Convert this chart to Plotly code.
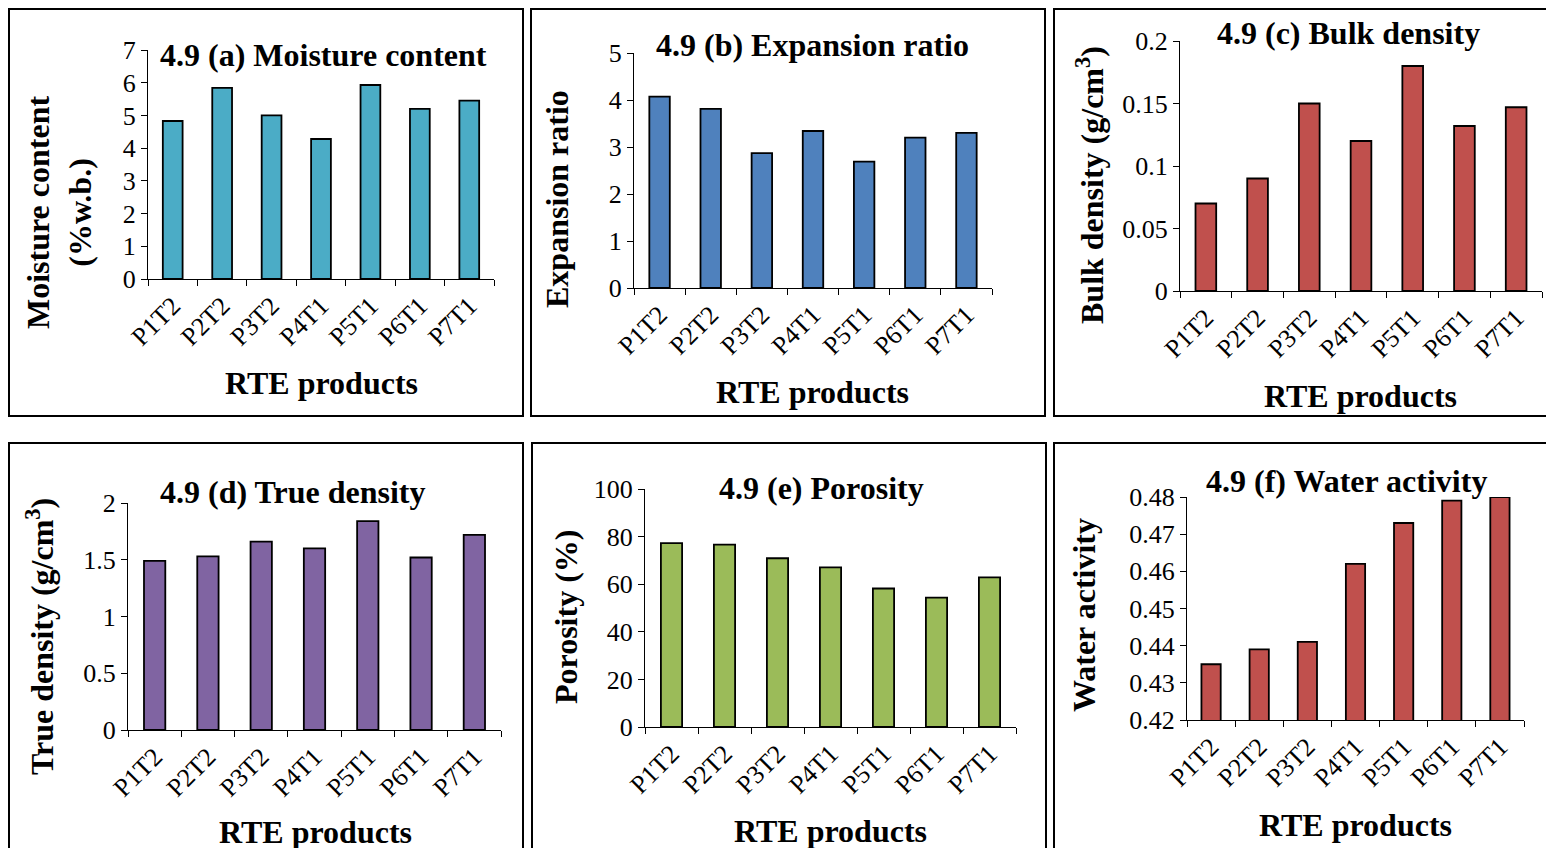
import plotly.graph_objects as go

# page body has an 8px margin, so the figure is a little smaller than the window
PAGE_OFF = 8
W, H = 1554 - PAGE_OFF, 848 - PAGE_OFF
FONT = "Liberation Serif"

products = ["P1T2", "P2T2", "P3T2", "P4T1", "P5T1", "P6T1", "P7T1"]

moisture = [4.83, 5.84, 5.0, 4.28, 5.93, 5.2, 5.45]
expansion = [4.07, 3.81, 2.87, 3.34, 2.69, 3.2, 3.3]
bulk_density = [0.07, 0.09, 0.15, 0.12, 0.18, 0.132, 0.147]
true_density = [1.49, 1.53, 1.66, 1.6, 1.84, 1.52, 1.72]
porosity = [77.3, 76.6, 70.9, 67.1, 58.2, 54.4, 62.9]
water_activity = [0.435, 0.439, 0.441, 0.462, 0.473, 0.479, 0.48]

panels = [
    dict(y=moisture, color="#4BACC6", title="4.9 (a) Moisture content",
         ytitle="Moisture content<br>(%w.b.)", yrange=[0, 7], dtick=1,
         plot=(148, 494, 50, 279), box=(9, 523, 9, 416),
         tpos=(323, 55), ypos=(59, 213), xpos=(321, 383)),
    dict(y=expansion, color="#4F81BD", title="4.9 (b) Expansion ratio",
         ytitle="Expansion ratio", yrange=[0, 5], dtick=1,
         plot=(634, 992, 53, 288), box=(531, 1045, 9, 416),
         tpos=(812, 45), ypos=(557, 199), xpos=(812, 392)),
    dict(y=bulk_density, color="#C0504D", title="4.9 (c) Bulk density",
         ytitle="Bulk density (g/cm<sup>3</sup>)", yrange=[0, 0.2], dtick=0.05,
         plot=(1180, 1542, 41, 291), box=(1054, 1570, 9, 416),
         tpos=(1348, 33), ypos=(1090, 185), xpos=(1360, 396)),
    dict(y=true_density, color="#8064A2", title="4.9 (d) True density",
         ytitle="True density (g/cm<sup>3</sup>)", yrange=[0, 2], dtick=0.5,
         plot=(128, 501, 503, 730), box=(9, 523, 443, 870),
         tpos=(293, 492), ypos=(40, 637), xpos=(315, 832)),
    dict(y=porosity, color="#9BBB59", title="4.9 (e) Porosity",
         ytitle="Porosity (%)", yrange=[0, 100], dtick=20,
         plot=(645, 1016, 489, 727), box=(532, 1046, 443, 870),
         tpos=(821, 488), ypos=(566, 617), xpos=(830, 831)),
    dict(y=water_activity, color="#C0504D", title="4.9 (f) Water activity",
         ytitle="Water activity", yrange=[0.42, 0.48], dtick=0.01,
         plot=(1187, 1524, 497, 720), box=(1054, 1570, 443, 870),
         tpos=(1346, 481), ypos=(1084, 615), xpos=(1355, 825)),
]


def px_x(v):
    return (v - PAGE_OFF) / W


def px_y(v):
    return 1 - (v - PAGE_OFF) / H


fig = go.Figure()
annotations = []
shapes = []

for i, p in enumerate(panels, start=1):
    sfx = "" if i == 1 else str(i)
    fig.add_trace(go.Bar(
        x=products, y=p["y"], xaxis="x" + sfx, yaxis="y" + sfx,
        marker=dict(color=p["color"], line=dict(color="black", width=1.8)),
        showlegend=False,
    ))
    x0, x1, y0, y1 = p["plot"]
    axis_common = dict(showgrid=False, zeroline=False, showline=True,
                       linecolor="black", linewidth=1.2, ticks="outside",
                       ticklen=6, tickcolor="black", tickwidth=1.2,
                       automargin=False,
                       tickfont=dict(family=FONT, size=26, color="black"))
    fig.layout["xaxis" + sfx] = dict(
        domain=[px_x(x0), px_x(x1)], anchor="y" + sfx, tickangle=-45,
        tickson="boundaries", **axis_common)
    fig.layout["yaxis" + sfx] = dict(
        domain=[px_y(y1), px_y(y0)], anchor="x" + sfx, range=p["yrange"],
        dtick=p["dtick"], **axis_common)

    bx0, bx1, by0, by1 = p["box"]
    shapes.append(dict(type="rect", xref="paper", yref="paper",
                       x0=px_x(bx0), x1=px_x(bx1), y0=px_y(by1), y1=px_y(by0),
                       line=dict(color="black", width=2)))

    bold = dict(family=FONT, size=32, color="black")
    common = dict(xref="paper", yref="paper", showarrow=False,
                  xanchor="center", yanchor="middle", font=bold)
    annotations.append(dict(text="<b>%s</b>" % p["title"], x=px_x(p["tpos"][0]),
                            y=px_y(p["tpos"][1]), **common))
    annotations.append(dict(text="<b>%s</b>" % p["ytitle"], x=px_x(p["ypos"][0]),
                            y=px_y(p["ypos"][1]), textangle=-90, **common))
    annotations.append(dict(text="<b>RTE products</b>", x=px_x(p["xpos"][0]),
                            y=px_y(p["xpos"][1]), **common))

fig.update_layout(
    width=W, height=H, margin=dict(l=0, r=0, t=0, b=0, autoexpand=False),
    paper_bgcolor="white", plot_bgcolor="white",
    bargap=0.6, annotations=annotations, shapes=shapes,
    font=dict(family=FONT, color="black"),
)

fig.write_html("out.html")
